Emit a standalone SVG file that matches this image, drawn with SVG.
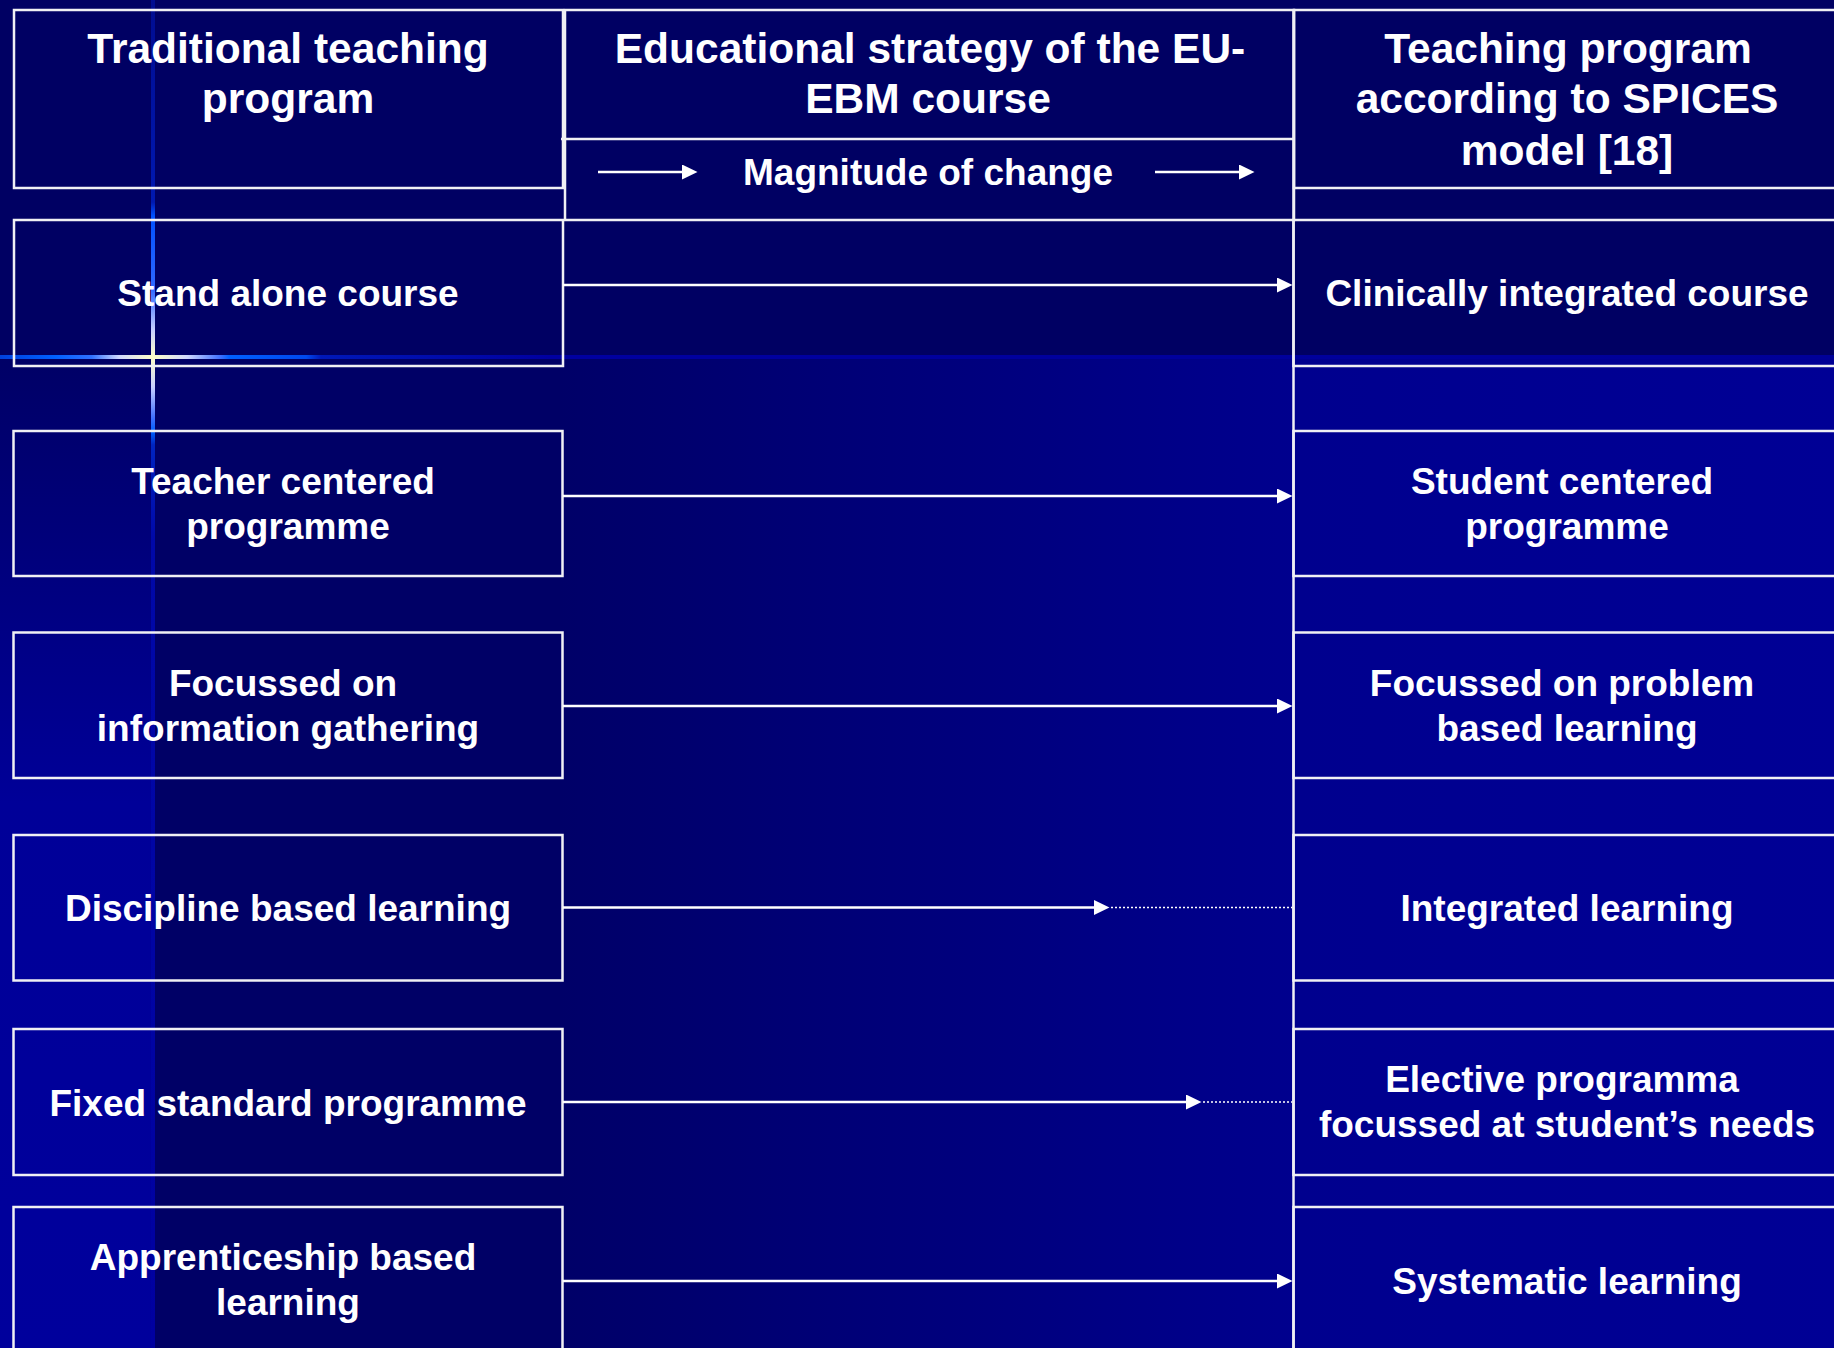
<svg xmlns="http://www.w3.org/2000/svg" width="1834" height="1348" viewBox="0 0 1834 1348">
<defs>
<style>
.box{fill:none;stroke:#f0f0f4;stroke-width:2.5}
.ln{stroke:#f0f0f4;stroke-width:2.5;fill:none}
.t{font-family:"Liberation Sans",Arial,sans-serif;font-weight:bold;fill:#ffffff;text-anchor:middle}
.h{font-size:42.5px}
.b{font-size:37px}
.arr{stroke:#ffffff;stroke-width:2.5;fill:none;marker-end:url(#ah)}
.dot{stroke:#ffffff;stroke-width:1.5;stroke-dasharray:2 2;fill:none}
</style>
<marker id="ah" markerUnits="userSpaceOnUse" markerWidth="16" markerHeight="16" viewBox="0 0 16 16" refX="8" refY="7.5" orient="auto">
<path d="M0,0 L15.5,7.5 L0,15 z" fill="#ffffff"/>
</marker>
<linearGradient id="gMid" gradientUnits="userSpaceOnUse" x1="560" y1="0" x2="1834" y2="0">
<stop offset="0" stop-color="#000068"/>
<stop offset="0.58" stop-color="#00008e"/>
<stop offset="1" stop-color="#000095"/>
</linearGradient>
<linearGradient id="gStrip" gradientUnits="userSpaceOnUse" x1="0" y1="357" x2="0" y2="1348">
<stop offset="0" stop-color="#000066"/>
<stop offset="0.45" stop-color="#000098"/>
<stop offset="1" stop-color="#00009c"/>
</linearGradient>
<linearGradient id="gH" gradientUnits="userSpaceOnUse" x1="0" y1="0" x2="1834" y2="0">
<stop offset="0" stop-color="#0040dd"/>
<stop offset="0.03" stop-color="#0060ff"/>
<stop offset="0.05" stop-color="#3070ff"/>
<stop offset="0.065" stop-color="#d0d8ff"/>
<stop offset="0.0834" stop-color="#ffffc8"/>
<stop offset="0.102" stop-color="#d0d8ff"/>
<stop offset="0.12" stop-color="#4070ff"/>
<stop offset="0.125" stop-color="#0060ff"/>
<stop offset="0.167" stop-color="#0048ee"/>
<stop offset="0.175" stop-color="#0018b8"/>
<stop offset="0.3" stop-color="#0000a0"/>
<stop offset="1" stop-color="#000098"/>
</linearGradient>
<linearGradient id="gV" gradientUnits="userSpaceOnUse" x1="0" y1="0" x2="0" y2="1348">
<stop offset="0" stop-color="#000c90"/>
<stop offset="0.15" stop-color="#0018b0"/>
<stop offset="0.16" stop-color="#0050ff"/>
<stop offset="0.215" stop-color="#3068ff"/>
<stop offset="0.245" stop-color="#c8d0ff"/>
<stop offset="0.265" stop-color="#ffffc8"/>
<stop offset="0.287" stop-color="#c8d0ff"/>
<stop offset="0.31" stop-color="#4070ff"/>
<stop offset="0.32" stop-color="#0060ff"/>
<stop offset="0.33" stop-color="#0024c0"/>
<stop offset="0.4" stop-color="#0008a8"/>
<stop offset="1" stop-color="#0000a0"/>
</linearGradient>
</defs>

<g id="background">
<rect x="0" y="0" width="1834" height="1348" fill="#000063"/>
<rect x="153" y="357" width="1681" height="991" fill="#000066"/>
<rect x="560" y="357" width="1274" height="991" fill="url(#gMid)"/>
<rect x="0" y="357" width="153" height="991" fill="url(#gStrip)"/>
<rect x="0" y="355" width="1834" height="4" fill="url(#gH)"/>
<rect x="151" y="0" width="4" height="1348" fill="url(#gV)"/>
</g>

<g id="header-traditional">
<rect class="box" x="14" y="10" width="549" height="178"/>
<text class="t h" x="288" y="63">Traditional teaching</text>
<text class="t h" x="288" y="113">program</text>
</g>

<g id="header-strategy">
<rect class="box" x="565" y="10" width="729" height="210"/>
<line class="ln" x1="561" y1="139" x2="1294" y2="139"/>
<text class="t h" x="930" y="63">Educational strategy of the EU-</text>
<text class="t h" x="928" y="113">EBM course</text>
<text class="t b" x="928" y="185">Magnitude of change</text>
</g>

<g id="header-spices">
<rect class="box" x="1294" y="10" width="548" height="178"/>
<text class="t h" x="1568" y="63">Teaching program</text>
<text class="t h" x="1567" y="113">according to SPICES</text>
<text class="t h" x="1567" y="165">model [18]</text>
</g>

<g id="left-1">
<rect class="box" x="14" y="220" width="549" height="146"/>
<text class="t b" x="288" y="306">Stand alone course</text>
</g>
<g id="left-2">
<rect class="box" x="13.5" y="431" width="549" height="145"/>
<text class="t b" x="283" y="494">Teacher centered</text>
<text class="t b" x="288" y="539">programme</text>
</g>
<g id="left-3">
<rect class="box" x="13.5" y="632.5" width="549" height="145.5"/>
<text class="t b" x="283" y="696">Focussed on</text>
<text class="t b" x="288" y="741">information gathering</text>
</g>
<g id="left-4">
<rect class="box" x="13.5" y="835" width="549" height="145.5"/>
<text class="t b" x="288" y="921">Discipline based learning</text>
</g>
<g id="left-5">
<rect class="box" x="13.5" y="1029" width="549" height="146"/>
<text class="t b" x="288" y="1116">Fixed standard programme</text>
</g>
<g id="left-6">
<rect class="box" x="13.5" y="1207" width="549" height="160"/>
<text class="t b" x="283" y="1270">Apprenticeship based</text>
<text class="t b" x="288" y="1315">learning</text>
</g>

<g id="right-1">
<rect class="box" x="1293.5" y="220" width="549" height="146"/>
<text class="t b" x="1567" y="306">Clinically integrated course</text>
</g>
<g id="right-2">
<rect class="box" x="1293.5" y="431" width="549" height="145"/>
<text class="t b" x="1562" y="494">Student centered</text>
<text class="t b" x="1567" y="539">programme</text>
</g>
<g id="right-3">
<rect class="box" x="1293.5" y="632.5" width="549" height="145.5"/>
<text class="t b" x="1562" y="696">Focussed on problem</text>
<text class="t b" x="1567" y="741">based learning</text>
</g>
<g id="right-4">
<rect class="box" x="1293.5" y="835" width="549" height="145.5"/>
<text class="t b" x="1567" y="921">Integrated learning</text>
</g>
<g id="right-5">
<rect class="box" x="1293.5" y="1029" width="549" height="146"/>
<text class="t b" x="1562" y="1092">Elective programma</text>
<text class="t b" x="1567" y="1137">focussed at student’s needs</text>
</g>
<g id="right-6">
<rect class="box" x="1293.5" y="1207" width="549" height="160"/>
<text class="t b" x="1567" y="1294">Systematic learning</text>
</g>

<g id="connectors">
<line class="ln" x1="1293.5" y1="10" x2="1293.5" y2="1348"/>
<line class="arr" x1="598" y1="172" x2="690" y2="172"/>
<line class="arr" x1="1155" y1="172" x2="1247" y2="172"/>
<line class="arr" x1="563" y1="285" x2="1285" y2="285"/>
<line class="arr" x1="563" y1="496" x2="1285" y2="496"/>
<line class="arr" x1="563" y1="706" x2="1285" y2="706"/>
<line class="arr" x1="563" y1="907.5" x2="1102" y2="907.5"/>
<line class="dot" x1="1111" y1="907.5" x2="1292" y2="907.5"/>
<line class="arr" x1="563" y1="1102" x2="1194" y2="1102"/>
<line class="dot" x1="1203" y1="1102" x2="1292" y2="1102"/>
<line class="arr" x1="563" y1="1281" x2="1285" y2="1281"/>
</g>
</svg>
